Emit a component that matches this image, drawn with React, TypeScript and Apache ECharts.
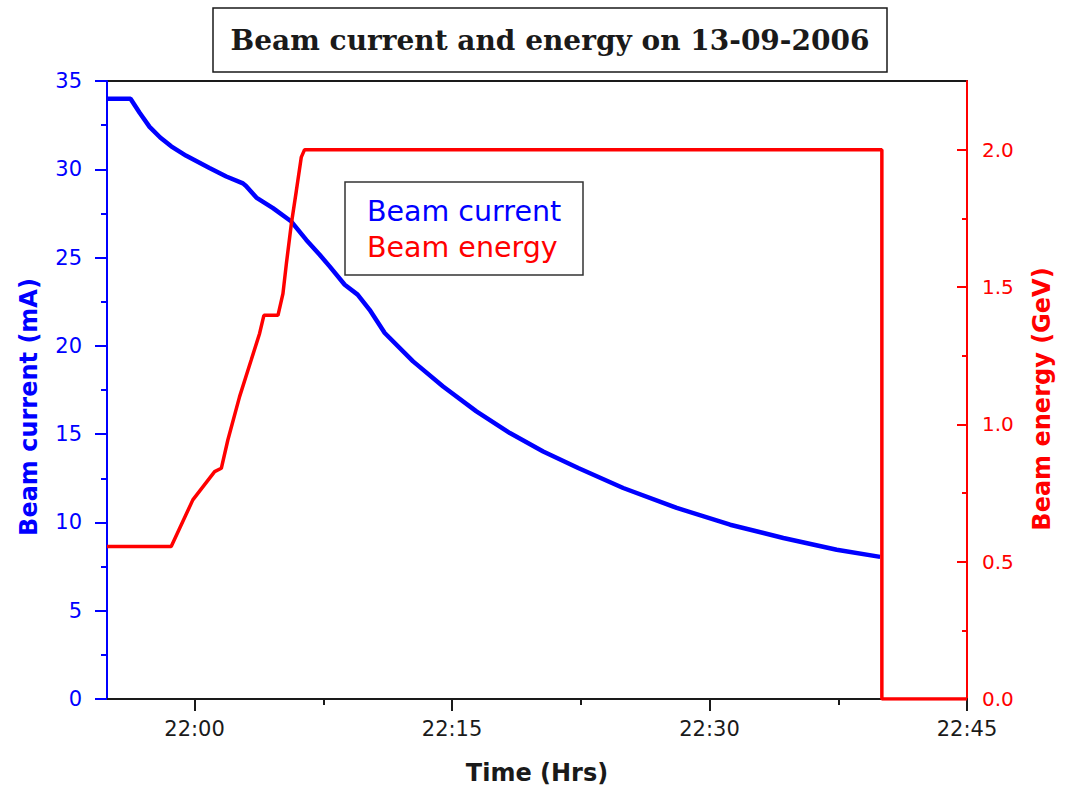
import React, { useEffect, useRef } from "react";
import * as echarts from "echarts";

// Time is kept as minutes after 22:00 (13-09-2006).
const currentMinutes = [
  -5.1, -3.73, -3.2, -2.62, -2.0, -1.36, -0.48, 0.87, 1.85, 2.82, 3.0, 3.6, 4.57,
  5.64, 6.51, 7.29, 7.87, 8.75, 9.5, 10.2, 11.08, 12.73, 14.48, 16.42, 18.37,
  20.31, 22.35, 24.97, 28.09, 31.2, 34.3, 37.41, 39.94,
];
// Beam current, mA
const currentValues = [
  34.0, 34.0, 33.2, 32.4, 31.8, 31.3, 30.76, 30.07, 29.59, 29.2, 29.05, 28.4, 27.8,
  27.04, 26.0, 25.16, 24.5, 23.46, 22.9, 22.04, 20.73, 19.12, 17.7, 16.29, 15.06,
  14.02, 13.08, 11.95, 10.82, 9.87, 9.12, 8.45, 8.05,
];

const energyMinutes = [
  -5.1, -1.36, -0.1, 1.17, 1.56, 1.94, 2.62, 3.3, 3.79, 4.04, 4.86, 5.15, 5.35,
  5.64, 5.93, 6.22, 6.41, 40.04, 40.04, 45,
];
// Beam energy, GeV
const energyValues = [
  0.555, 0.555, 0.725, 0.828, 0.84, 0.943, 1.1, 1.234, 1.331, 1.397, 1.397, 1.476,
  1.585, 1.73, 1.85, 1.973, 2.0, 2.0, 0, 0,
];

const timeTicks = [0, 15, 30, 45];
const timeMinorTicks = [7.5, 22.5, 37.5];
const energyTicks = [0, 0.5, 1.0, 1.5, 2.0];
const energyMinorTicks = [0.25, 0.75, 1.25, 1.75];

const TITLE = "Beam current and energy on 13-09-2006";
const LEGEND_CURRENT = "Beam current";
const LEGEND_ENERGY = "Beam energy";

const BLUE = "#0000ff";
const RED = "#ff0000";
const INK = "#1a1a1a";
const SANS = "DejaVu Sans";

const formatTime = (m: number) => {
  const total = 22 * 60 + Math.round(m);
  const h = Math.floor(total / 60);
  const mm = total % 60;
  return `${h}:${String(mm).padStart(2, "0")}`;
};

const zip = (xs: number[], ys: number[]) => xs.map((x, i) => [x, ys[i]]);

export default function App() {
  const ref = useRef<HTMLDivElement>(null);

  useEffect(() => {
    if (!ref.current) return;
    const chart = echarts.init(ref.current, undefined, { renderer: "svg" });

    const timeMin = currentMinutes[0];
    const timeMax = 45;

    chart.setOption({
      animation: false,
      backgroundColor: "#ffffff",
      grid: {
        left: 107,
        right: 113,
        top: 81,
        bottom: 106,
        show: true,
        borderColor: INK,
        borderWidth: 2,
      },
      graphic: [
        {
          type: "rect",
          shape: { x: 213, y: 8, width: 674, height: 64 },
          style: { fill: "#fff", stroke: INK, lineWidth: 1.5 },
        },
        {
          type: "text",
          x: 550,
          y: 40,
          style: {
            text: TITLE,
            align: "center",
            verticalAlign: "middle",
            fontFamily: "DejaVu Serif",
            fontWeight: "bold",
            fontSize: 28,
            fill: INK,
          },
        },
        {
          type: "rect",
          z: 10,
          shape: { x: 345, y: 182, width: 238, height: 93 },
          style: { fill: "#fff", stroke: "#333", lineWidth: 1.5 },
        },
        {
          type: "text",
          z: 11,
          x: 367,
          y: 211,
          style: {
            text: LEGEND_CURRENT,
            align: "left",
            verticalAlign: "middle",
            fontFamily: SANS,
            fontSize: 28.5,
            fill: BLUE,
          },
        },
        {
          type: "text",
          z: 11,
          x: 367,
          y: 247,
          style: {
            text: LEGEND_ENERGY,
            align: "left",
            verticalAlign: "middle",
            fontFamily: SANS,
            fontSize: 28.5,
            fill: RED,
          },
        },
      ],
      xAxis: [
        {
          type: "value",
          min: timeMin,
          max: timeMax,
          name: "Time (Hrs)",
          nameLocation: "middle",
          nameGap: 62,
          nameTextStyle: {
            fontFamily: SANS,
            fontWeight: "bold",
            fontSize: 24,
            color: INK,
          },
          axisLine: { onZero: false, lineStyle: { color: INK, width: 2 } },
          axisTick: {
            customValues: timeTicks,
            length: 12,
            lineStyle: { color: INK, width: 2 },
          },
          axisLabel: {
            customValues: timeTicks,
            formatter: (v: number) => formatTime(v),
            margin: 19,
            color: INK,
            fontFamily: SANS,
            fontSize: 21,
          },
          splitLine: { show: false },
        },
        {
          type: "value",
          position: "bottom",
          min: timeMin,
          max: timeMax,
          axisLine: { show: false, onZero: false },
          axisTick: {
            customValues: timeMinorTicks,
            length: 6,
            lineStyle: { color: INK, width: 2 },
          },
          axisLabel: { show: false },
          splitLine: { show: false },
        },
      ],
      yAxis: [
        {
          type: "value",
          position: "left",
          min: 0,
          max: 35,
          interval: 5,
          name: "Beam current (mA)",
          nameLocation: "middle",
          nameRotate: 90,
          nameGap: 66,
          nameTextStyle: {
            fontFamily: SANS,
            fontWeight: "bold",
            fontSize: 24,
            color: BLUE,
            padding: [0, 34, 0, 0],
          },
          axisLine: { onZero: false, lineStyle: { color: BLUE, width: 2 } },
          axisTick: { length: 12, lineStyle: { color: BLUE, width: 2 } },
          minorTick: {
            show: true,
            splitNumber: 2,
            length: 6,
            lineStyle: { color: BLUE, width: 2 },
          },
          axisLabel: {
            margin: 25,
            color: BLUE,
            fontFamily: SANS,
            fontSize: 21,
          },
          splitLine: { show: false },
        },
        {
          type: "value",
          position: "right",
          min: 0,
          max: 2.25,
          name: "Beam energy (GeV)",
          nameLocation: "middle",
          nameRotate: 90,
          nameGap: 63,
          nameTextStyle: {
            fontFamily: SANS,
            fontWeight: "bold",
            fontSize: 24,
            color: RED,
            padding: [0, 18, 0, 0],
          },
          axisLine: { onZero: false, lineStyle: { color: RED, width: 2 } },
          axisTick: {
            customValues: energyTicks,
            inside: true,
            length: 10,
            lineStyle: { color: RED, width: 2 },
          },
          axisLabel: {
            customValues: energyTicks,
            formatter: (v: number) => v.toFixed(1),
            margin: 15,
            color: RED,
            fontFamily: SANS,
            fontSize: 20,
          },
          splitLine: { show: false },
        },
        {
          type: "value",
          position: "right",
          min: 0,
          max: 2.25,
          axisLine: { show: false, onZero: false },
          axisTick: {
            customValues: energyMinorTicks,
            inside: true,
            length: 5,
            lineStyle: { color: RED, width: 2 },
          },
          axisLabel: { show: false },
          splitLine: { show: false },
        },
      ],
      series: [
        {
          name: LEGEND_CURRENT,
          type: "line",
          xAxisIndex: 0,
          yAxisIndex: 0,
          data: zip(currentMinutes, currentValues),
          showSymbol: false,
          lineStyle: { color: BLUE, width: 4.5 },
          z: 3,
        },
        {
          name: LEGEND_ENERGY,
          type: "line",
          xAxisIndex: 0,
          yAxisIndex: 1,
          data: zip(energyMinutes, energyValues),
          showSymbol: false,
          lineStyle: { color: RED, width: 3.5 },
          z: 4,
        },
      ],
    });

    return () => chart.dispose();
  }, []);

  return (
    <div
      ref={ref}
      style={{
        position: "fixed",
        left: 0,
        top: 0,
        width: 1080,
        height: 805,
        background: "#fff",
      }}
    />
  );
}
